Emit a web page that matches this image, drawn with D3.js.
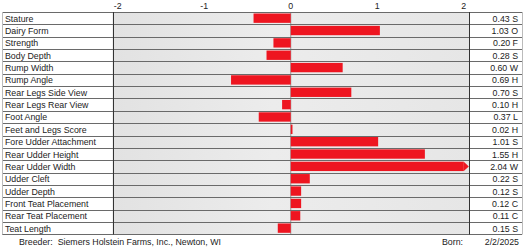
<!DOCTYPE html>
<html>
<head>
<meta charset="utf-8">
<script src="https://cdn.jsdelivr.net/npm/d3@7"></script>
<style>
    body { margin: 0; background: #fff; }
    text { font-family: "Liberation Sans", Arial, sans-serif; }
</style>
</head>
<body>
<svg id="chart" width="526" height="250"></svg>
<script>
// DATA
const traits = [
    'Stature', 'Dairy Form', 'Strength', 'Body Depth', 'Rump Width', 'Rump Angle',
    'Rear Legs Side View', 'Rear Legs Rear View', 'Foot Angle', 'Feet and Legs Score',
    'Fore Udder Attachment', 'Rear Udder Height', 'Rear Udder Width', 'Udder Cleft',
    'Udder Depth', 'Front Teat Placement', 'Rear Teat Placement', 'Teat Length'
];
const values = [-0.43, 1.03, -0.20, -0.28, 0.60, -0.69, 0.70, -0.10, -0.37, 0.02,
    1.01, 1.55, 2.04, 0.22, 0.12, 0.12, 0.11, -0.15];
const valueLabels = ['0.43 S', '1.03 O', '0.20 F', '0.28 S', '0.60 W', '0.69 H', '0.70 S',
    '0.10 H', '0.37 L', '0.02 H', '1.01 S', '1.55 H', '2.04 W', '0.22 S', '0.12 S',
    '0.12 C', '0.11 C', '0.15 S'];
const tickValues = [-2, -1, 0, 1, 2];
const breeder = 'Siemers Holstein Farms, Inc., Newton, WI';
const born = '2/2/2025';

const data = traits.map((t, i) => ({ trait: t, value: values[i], label: valueLabels[i] }));

const svg = d3.select('#chart');
const fontSize = 8.8;

// LAYOUT
const tableLeft = 2, tableRight = 522;
const plotLeft = 112.5, plotRight = 469;
const tableTop = 12, rowH = 12.35;
const tableBottom = tableTop + rowH * traits.length;

// SCALES
const x = d3.scaleLinear().domain([-2.06, 2.06]).range([plotLeft, plotRight]);
const y = d3.scaleBand().domain(traits).range([tableTop, tableBottom]).paddingInner(0);

// BACKGROUND OF PLOT AREA
const defs = svg.append('defs');
const grad = defs.append('linearGradient').attr('id', 'bg').attr('x1', '0').attr('x2', '1');
grad.append('stop').attr('offset', '0').attr('stop-color', '#e2e2e2');
grad.append('stop').attr('offset', '0.45').attr('stop-color', '#ececec');
grad.append('stop').attr('offset', '1').attr('stop-color', '#e6e6e6');

svg.append('rect')
    .attr('x', plotLeft)
    .attr('y', tableTop)
    .attr('width', plotRight - plotLeft)
    .attr('height', tableBottom - tableTop)
    .attr('fill', 'url(#bg)');

// TOP AXIS LABELS
svg.append('g')
    .selectAll('text')
    .data(tickValues)
    .enter()
    .append('text')
    .attr('x', d => x(d))
    .attr('y', 9)
    .attr('text-anchor', 'middle')
    .attr('font-size', fontSize)
    .attr('fill', '#222')
    .text(d => d);

// ZERO LINE
svg.append('line')
    .attr('x1', x(0)).attr('x2', x(0))
    .attr('y1', tableTop).attr('y2', tableBottom)
    .attr('stroke', '#999')
    .attr('stroke-width', 1);

// BARS
const bars = svg.append('g');
bars.selectAll('rect')
    .data(data)
    .enter()
    .append('rect')
    .attr('x', d => x(Math.min(0, d.value)))
    .attr('y', d => y(d.trait) + 1.5)
    .attr('width', d => Math.max(1, Math.abs(x(Math.min(d.value, 2.0)) - x(0))))
    .attr('height', y.bandwidth() - 3)
    .attr('fill', '#ee1520');

// ARROW TIP FOR VALUES PAST THE SCALE
bars.selectAll('path')
    .data(data.filter(d => d.value > 2))
    .enter()
    .append('path')
    .attr('d', d => {
        const x0 = x(2.0), y0 = y(d.trait) + 1.5, h = y.bandwidth() - 3;
        return `M${x0},${y0}L${x0 + 5},${y0 + h / 2}L${x0},${y0 + h}Z`;
    })
    .attr('fill', '#ee1520');

// ROW LINES
svg.append('g')
    .selectAll('line')
    .data(d3.range(traits.length + 1))
    .enter()
    .append('line')
    .attr('x1', tableLeft).attr('x2', tableRight)
    .attr('y1', i => Math.round(tableTop + i * rowH) + 0.5)
    .attr('y2', i => Math.round(tableTop + i * rowH) + 0.5)
    .attr('stroke', '#6a6a6a')
    .attr('stroke-width', 1);

// COLUMN LINES
[tableLeft, plotLeft, plotRight, tableRight].forEach((cx, i) => {
    svg.append('line')
        .attr('x1', Math.round(cx) + 0.5).attr('x2', Math.round(cx) + 0.5)
        .attr('y1', tableTop).attr('y2', Math.round(tableBottom) + 0.5)
        .attr('stroke', i === 0 || i === 3 ? '#bbb' : '#333')
        .attr('stroke-width', 1);
});

// TRAIT LABELS
svg.append('g')
    .selectAll('text')
    .data(data)
    .enter()
    .append('text')
    .attr('x', 5)
    .attr('y', d => y(d.trait) + y.bandwidth() / 2 + 3.5)
    .attr('font-size', fontSize)
    .attr('fill', '#222')
    .text(d => d.trait);

// VALUE LABELS
svg.append('g')
    .selectAll('text')
    .data(data)
    .enter()
    .append('text')
    .attr('x', 518)
    .attr('y', d => y(d.trait) + y.bandwidth() / 2 + 3.5)
    .attr('text-anchor', 'end')
    .attr('font-size', fontSize)
    .attr('fill', '#222')
    .text(d => d.label);

// FOOTER
svg.append('text')
    .attr('x', 19).attr('y', 245)
    .attr('font-size', fontSize).attr('fill', '#222')
    .attr('xml:space', 'preserve')
    .text('Breeder:  ' + breeder);

svg.append('text')
    .attr('x', 442).attr('y', 245)
    .attr('font-size', fontSize).attr('fill', '#222')
    .text('Born:');

svg.append('text')
    .attr('x', 519).attr('y', 245)
    .attr('text-anchor', 'end')
    .attr('font-size', fontSize).attr('fill', '#222')
    .text(born);
</script>
</body>
</html>
